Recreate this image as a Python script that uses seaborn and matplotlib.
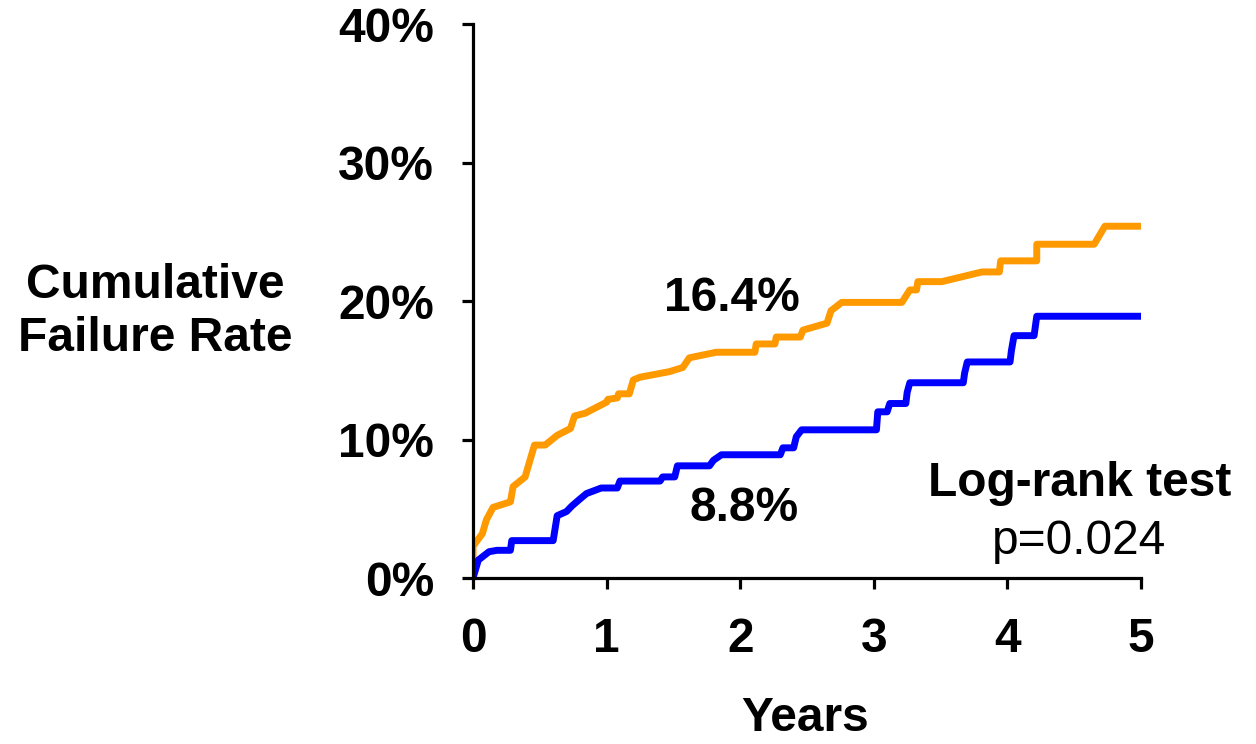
import matplotlib
matplotlib.use("Agg")
import matplotlib.pyplot as plt
from matplotlib.ticker import FuncFormatter
import seaborn as sns
import pandas as pd

# Cumulative failure curves (years, percent)
orange_t = [0, 0, 0.07, 0.10, 0.15, 0.28, 0.30, 0.39, 0.46, 0.54, 0.63, 0.73, 0.76,
            0.84, 0.90, 1.00, 1.01, 1.08, 1.09, 1.17, 1.20, 1.25, 1.47, 1.57, 1.62,
            1.82, 2.11, 2.12, 2.26, 2.27, 2.45, 2.47, 2.65, 2.68, 2.76, 3.21, 3.27,
            3.32, 3.33, 3.51, 3.81, 3.94, 3.95, 4.22, 4.22, 4.65, 4.73, 5.0]
orange_y = [0, 2.3, 3.2, 4.2, 5.1, 5.5, 6.6, 7.3, 9.6, 9.6, 10.3, 10.8, 11.7,
            11.9, 12.2, 12.7, 12.9, 13.0, 13.3, 13.3, 14.3, 14.5, 14.9, 15.2, 15.9,
            16.3, 16.3, 16.9, 16.9, 17.4, 17.4, 17.9, 18.4, 19.3, 19.9, 19.9, 20.8,
            20.8, 21.4, 21.4, 22.1, 22.1, 22.9, 22.9, 24.1, 24.1, 25.4, 25.4]

blue_t = [0, 0.04, 0.08, 0.12, 0.18, 0.28, 0.29, 0.60, 0.63, 0.70, 0.74, 0.80, 0.85,
          0.96, 1.08, 1.10, 1.40, 1.42, 1.51, 1.53, 1.77, 1.80, 1.86, 2.30, 2.32,
          2.40, 2.42, 2.46, 3.02, 3.03, 3.10, 3.12, 3.24, 3.25, 3.27, 3.67, 3.68,
          3.70, 4.02, 4.03, 4.05, 4.20, 4.22, 5.0]
blue_y = [0, 1.3, 1.6, 1.9, 2.0, 2.0, 2.7, 2.7, 4.5, 4.8, 5.2, 5.7, 6.1,
          6.5, 6.5, 7.0, 7.0, 7.3, 7.3, 8.1, 8.1, 8.5, 8.9, 8.9, 9.4,
          9.4, 10.2, 10.7, 10.7, 12.0, 12.0, 12.6, 12.6, 13.4, 14.1, 14.1, 14.8,
          15.6, 15.6, 16.4, 17.5, 17.5, 18.9, 18.9]

x_ticks = [0, 1, 2, 3, 4, 5]
y_ticks = [0, 10, 20, 30, 40]

label_orange_2y = "16.4%"
label_blue_2y = "8.8%"
test_name = "Log-rank test"
p_text = "p=0.024"

sns.set_style("white")
plt.rcParams["font.family"] = ["Liberation Sans", "DejaVu Sans"]
plt.rcParams["text.color"] = "black"
plt.rcParams["xtick.color"] = "black"
plt.rcParams["ytick.color"] = "black"
plt.rcParams["axes.labelcolor"] = "black"

FS = 34.5

df = pd.concat([
    pd.DataFrame({"t": orange_t, "y": orange_y, "grp": "orange"}),
    pd.DataFrame({"t": blue_t, "y": blue_y, "grp": "blue"}),
], ignore_index=True)

fig = plt.figure(figsize=(12.56, 7.44), dpi=100)
ax = fig.add_axes([0.3766, 0.2231, 0.5318, 0.7446])

sns.lineplot(data=df, x="t", y="y", hue="grp", sort=False, estimator=None,
             palette={"orange": "#FF9900", "blue": "#0000FF"},
             linewidth=5.0, legend=False, ax=ax)

ax.set_xlim(0, 5)
ax.set_ylim(0, 40)
ax.set_xticks(x_ticks)
ax.set_yticks(y_ticks)
ax.yaxis.set_major_formatter(FuncFormatter(lambda v, _: f"{int(v)}%"))

for s in ["top", "right"]:
    ax.spines[s].set_visible(False)
for s in ["left", "bottom"]:
    ax.spines[s].set_linewidth(2.3)
    ax.spines[s].set_color("black")

ax.tick_params(axis="both", direction="out", length=8, width=2.3, color="black",
               labelcolor="black", labelsize=FS, bottom=True, left=True)
ax.tick_params(axis="y", pad=20)
ax.tick_params(axis="x", pad=20)
for lab in ax.get_xticklabels() + ax.get_yticklabels():
    lab.set_fontweight("bold")

ax.set_xlabel("Years", fontsize=FS, fontweight="bold", va="center")
ax.xaxis.set_label_coords(0.497, -0.253)
ax.set_ylabel("Cumulative\nFailure Rate", fontsize=FS, fontweight="bold",
              rotation=0, ha="center", va="center", linespacing=1.25)
ax.yaxis.set_label_coords(-0.476, 0.48)

ax.text(1.94, 20.2, label_orange_2y, fontsize=FS, fontweight="bold",
        ha="center", va="center")
ax.text(2.03, 5.0, label_blue_2y, fontsize=FS, fontweight="bold",
        ha="center", va="center")
ax.text(4.54, 6.8, test_name, fontsize=FS, fontweight="bold",
        ha="center", va="center", clip_on=False)
ax.text(4.54, 2.65, p_text, fontsize=FS, ha="center", va="center", clip_on=False)

fig.savefig("out.png", dpi=100)
